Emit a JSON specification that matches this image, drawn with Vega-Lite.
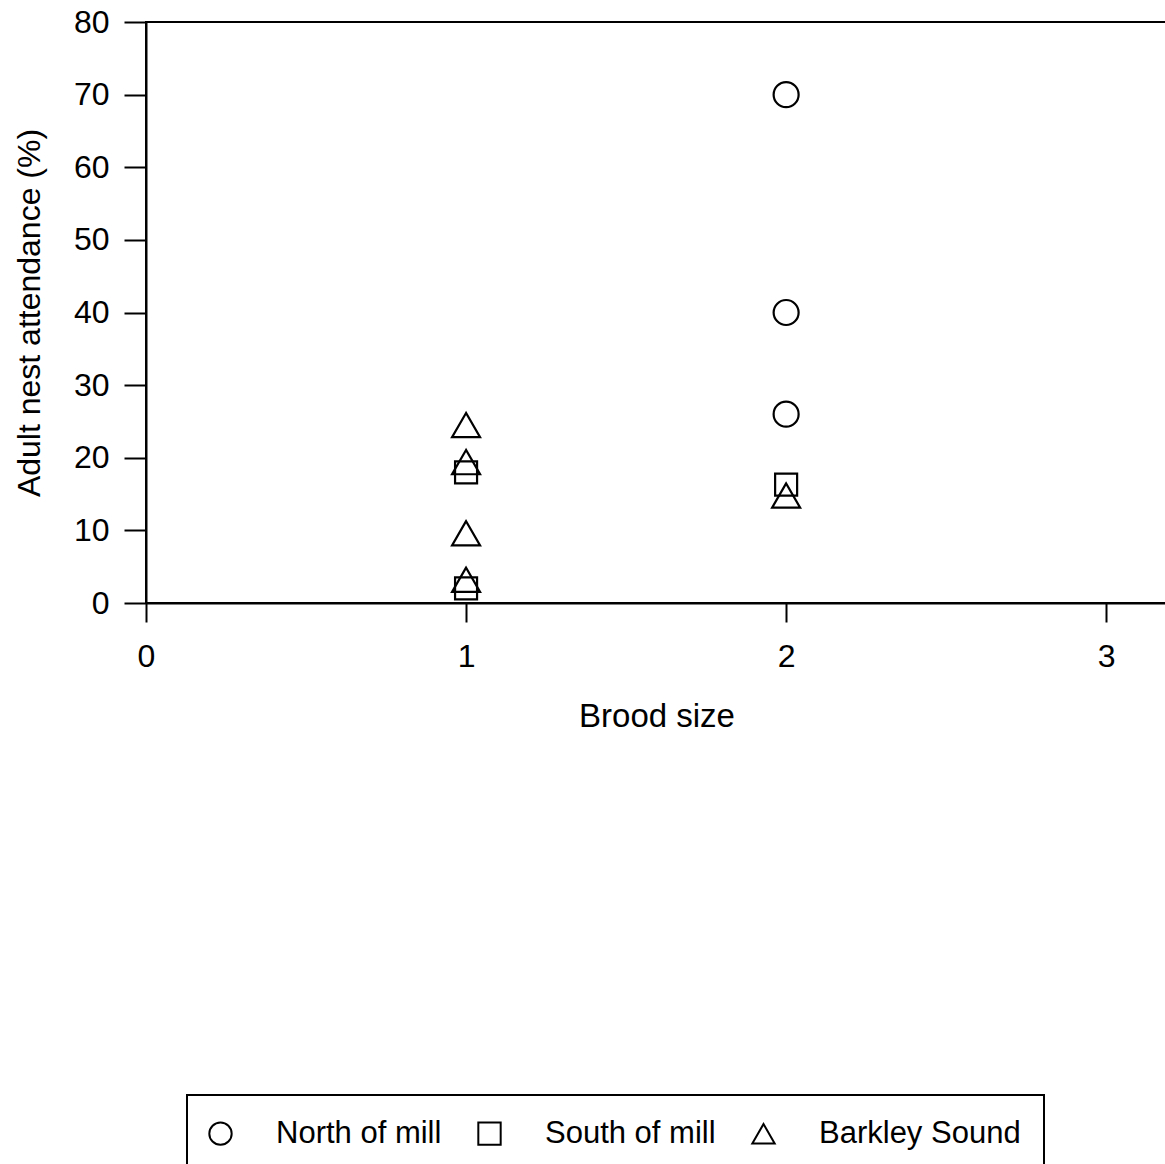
{
  "$schema": "https://vega.github.io/schema/vega-lite/v6.json",
  "width": 1021,
  "height": 581,
  "autosize": {"type": "none"},
  "padding": {"left": 146, "top": 22, "right": 0, "bottom": 561},
  "background": "white",
  "data": {
    "values": [
      {"brood": 2, "attendance": 70, "site": "North of mill"},
      {"brood": 2, "attendance": 40, "site": "North of mill"},
      {"brood": 2, "attendance": 26, "site": "North of mill"},
      {"brood": 1, "attendance": 18, "site": "South of mill"},
      {"brood": 1, "attendance": 2, "site": "South of mill"},
      {"brood": 2, "attendance": 16.3, "site": "South of mill"},
      {"brood": 1, "attendance": 24.5, "site": "Barkley Sound"},
      {"brood": 1, "attendance": 19.4, "site": "Barkley Sound"},
      {"brood": 1, "attendance": 9.6, "site": "Barkley Sound"},
      {"brood": 1, "attendance": 3.2, "site": "Barkley Sound"},
      {"brood": 2, "attendance": 14.8, "site": "Barkley Sound"}
    ]
  },
  "encoding": {
    "x": {
      "field": "brood", "type": "quantitative", "title": "Brood size",
      "scale": {"domain": [0, 3.19], "nice": false, "zero": false},
      "axis": {"values": [0, 1, 2, 3], "format": "d", "tickSize": 19, "labelPadding": 19, "titlePadding": 28, "labelFlush": false, "titleFontSize": 33}
    },
    "y": {
      "field": "attendance", "type": "quantitative", "title": "Adult nest attendance (%)",
      "scale": {"domain": [0, 80], "nice": false},
      "axis": {"values": [0, 10, 20, 30, 40, 50, 60, 70, 80], "tickSize": 22, "labelPadding": 15, "titlePadding": 27, "labelFlush": false, "titleFontSize": 32}
    },
    "shape": {
      "field": "site", "type": "nominal", "title": null,
      "scale": {"domain": ["North of mill", "South of mill", "Barkley Sound"], "range": ["circle", "square", "triangle-up"]}
    }
  },
  "layer": [
    {"transform": [{"filter": "datum.site === 'North of mill'"}], "mark": {"type": "point", "filled": false, "color": "black", "strokeWidth": 2.2, "opacity": 1, "size": 625}},
    {"transform": [{"filter": "datum.site === 'South of mill'"}], "mark": {"type": "point", "filled": false, "color": "black", "strokeWidth": 2.2, "opacity": 1, "size": 484}},
    {"transform": [{"filter": "datum.site === 'Barkley Sound'"}], "mark": {"type": "point", "filled": false, "color": "black", "strokeWidth": 2.2, "opacity": 1, "size": 784}}
  ],
  "config": {
    "font": "Liberation Sans",
    "view": {"stroke": "black", "strokeWidth": 2},
    "axis": {
      "grid": false, "domainColor": "black", "domainWidth": 2, "tickColor": "black", "tickWidth": 2,
      "labelColor": "black", "titleColor": "black", "labelFontSize": 32,
      "labelFont": "Liberation Sans", "titleFont": "Liberation Sans", "titleFontWeight": "normal"
    },
    "legend": {
      "orient": "none", "legendX": 41, "legendY": 1073, "direction": "horizontal", "columns": 3,
      "strokeColor": "black", "strokeWidth": 2, "padding": 23,
      "symbolSize": 500, "symbolStrokeWidth": 2, "symbolStrokeColor": "black", "symbolFillColor": "transparent",
      "symbolOffset": -5,
      "labelFontSize": 31, "labelFont": "Liberation Sans", "labelColor": "black", "labelLimit": 500,
      "labelOffset": 40, "columnPadding": 32
    }
  }
}
